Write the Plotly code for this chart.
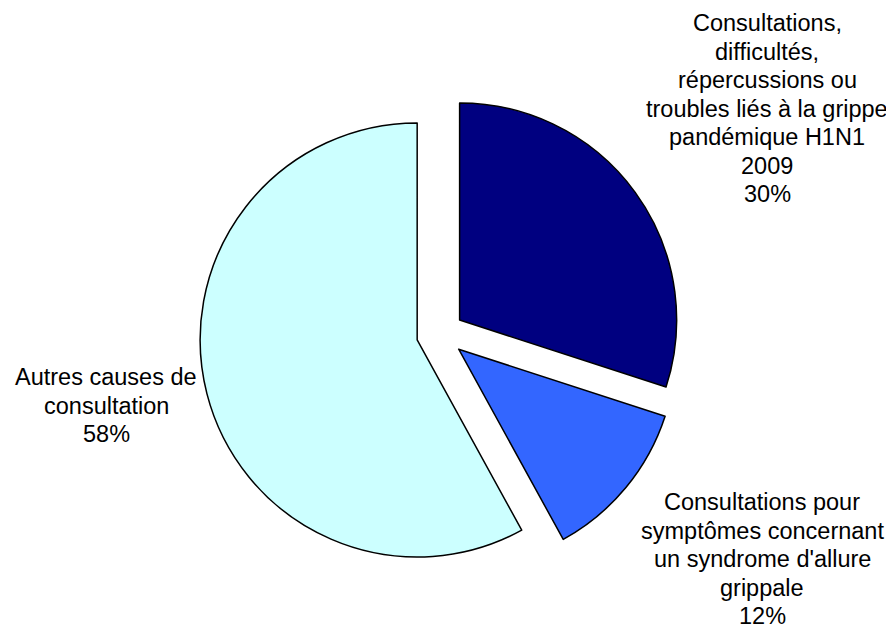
import plotly.graph_objects as go

# ---- data ----
label_lines = [
    ["Consultations,", "difficultés,", "répercussions ou", "troubles liés à la grippe", "pandémique H1N1", "2009"],
    ["Consultations pour", "symptômes concernant", "un syndrome d'allure", "grippale"],
    ["Autres causes de", "consultation"],
]
values = [30, 12, 58]
colors = ["#000080", "#3366FF", "#CCFFFF"]

labels = [" ".join(l) for l in label_lines]

# ---- layout constants ----
OFF = 8                      # default page body margin
W, H = 894 - OFF, 628 - OFF
FONT = "Liberation Sans, Arial, sans-serif"
FS = 23.5
LINE_H = 28.5
label_cx = [767, 762, 106]      # window-pixel centre x of each label block
label_top = [23, 502, 377]      # window-pixel centre y of first line
pull = 0.11
cx, cy, half = 440.3 - OFF, 334 - OFF, 240.9

fig = go.Figure(
    go.Pie(
        labels=labels,
        values=values,
        sort=False,
        direction="clockwise",
        rotation=0,
        pull=[pull] * len(values),
        marker=dict(colors=colors, line=dict(color="black", width=1.5)),
        textinfo="none",
        hoverinfo="label+percent",
        domain=dict(x=[(cx - 300) / W, (cx + 300) / W],
                    y=[1 - (cy + half) / H, 1 - (cy - half) / H]),
    )
)

total = sum(values)
annotations = []
for i, lines in enumerate(label_lines):
    all_lines = lines + [f"{round(100 * values[i] / total)}%"]
    for j, line in enumerate(all_lines):
        ypx = label_top[i] + j * LINE_H - OFF
        annotations.append(dict(
            text=line, x=(label_cx[i] - OFF) / W, y=1 - ypx / H,
            xref="paper", yref="paper", xanchor="center", yanchor="middle",
            showarrow=False, font=dict(family=FONT, size=FS, color="black"),
        ))

fig.update_layout(
    width=W, height=H,
    margin=dict(l=0, r=0, t=0, b=0),
    paper_bgcolor="white", plot_bgcolor="white",
    showlegend=False,
    annotations=annotations,
    font=dict(family=FONT),
)

fig.write_html("out.html")
